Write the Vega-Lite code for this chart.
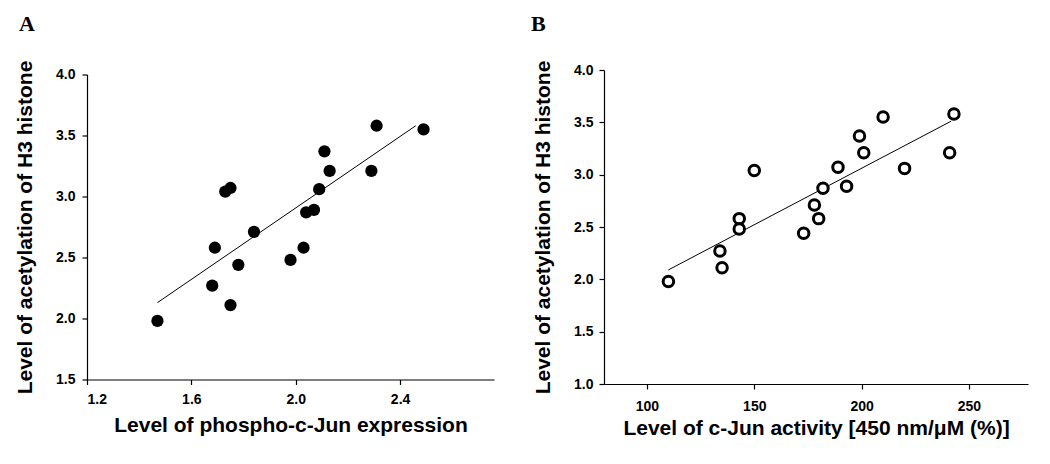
{
  "$schema": "https://vega.github.io/schema/vega-lite/v6.json",
  "background": "white",
  "padding": {"left": 14, "top": 13, "right": 5, "bottom": 5},
  "bounds": "flush",
  "center": true,
  "spacing": 110,
  "config": {
    "view": {"stroke": null},
    "axis": {
      "grid": false,
      "domainColor": "black",
      "domainWidth": 1.2,
      "tickColor": "black",
      "tickWidth": 1.2,
      "tickSize": 5,
      "labelFont": "Liberation Sans",
      "labelFontWeight": "bold",
      "labelFontSize": 14,
      "labelColor": "black",
      "titleFont": "Liberation Sans",
      "titleFontWeight": "bold",
      "titleFontSize": 21,
      "titleColor": "black"
    },
    "axisX": {"labelPadding": 8, "titlePadding": 8},
    "axisY": {"labelPadding": 7, "titlePadding": 20},
    "title": {"font": "Liberation Serif", "fontWeight": "bold", "fontSize": 22, "color": "black", "anchor": "start", "baseline": "alphabetic", "frame": "group", "offset": 24}
  },
  "datasets": {
    "a": [
      {"x": 1.47, "y": 1.98}, {"x": 1.68, "y": 2.27}, {"x": 1.69, "y": 2.58}, {"x": 1.75, "y": 2.11},
      {"x": 1.73, "y": 3.04}, {"x": 1.75, "y": 3.07}, {"x": 1.78, "y": 2.44}, {"x": 1.84, "y": 2.71},
      {"x": 1.98, "y": 2.48}, {"x": 2.03, "y": 2.58}, {"x": 2.04, "y": 2.87}, {"x": 2.07, "y": 2.89},
      {"x": 2.09, "y": 3.06}, {"x": 2.11, "y": 3.37}, {"x": 2.13, "y": 3.21}, {"x": 2.29, "y": 3.21},
      {"x": 2.31, "y": 3.58}, {"x": 2.49, "y": 3.55}
    ],
    "aline": [{"x": 1.47, "y": 2.13}, {"x": 2.46, "y": 3.58}],
    "b": [
      {"x": 110, "y": 1.98}, {"x": 134, "y": 2.27}, {"x": 135, "y": 2.11}, {"x": 143, "y": 2.58},
      {"x": 143, "y": 2.48}, {"x": 150, "y": 3.04}, {"x": 173, "y": 2.44}, {"x": 178, "y": 2.71},
      {"x": 180, "y": 2.58}, {"x": 182, "y": 2.87}, {"x": 189, "y": 3.07}, {"x": 193, "y": 2.89},
      {"x": 199, "y": 3.37}, {"x": 201, "y": 3.21}, {"x": 210, "y": 3.55}, {"x": 220, "y": 3.06},
      {"x": 241, "y": 3.21}, {"x": 243, "y": 3.58}
    ],
    "bline": [{"x": 110, "y": 2.09}, {"x": 241.6, "y": 3.51}]
  },
  "hconcat": [
    {
      "title": {"text": "A", "dx": -68},
      "width": 407,
      "height": 305,
      "layer": [
        {
          "data": {"name": "aline"},
          "mark": {"type": "line", "color": "black", "strokeWidth": 1},
          "encoding": {
            "x": {"field": "x", "type": "quantitative", "scale": {"domain": [1.2, 2.76], "nice": false, "zero": false},
                  "axis": {"title": "Level of phospho-c-Jun expression", "values": [1.2, 1.6, 2.0, 2.4], "format": ".1f"}},
            "y": {"field": "y", "type": "quantitative", "scale": {"domain": [1.5, 4.0], "nice": false, "zero": false},
                  "axis": {"title": "Level of acetylation of H3 histone", "values": [1.5, 2.0, 2.5, 3.0, 3.5, 4.0], "format": ".1f"}}
          }
        },
        {
          "data": {"name": "a"},
          "mark": {"type": "point", "filled": true, "color": "black", "size": 150, "opacity": 1},
          "encoding": {
            "x": {"field": "x", "type": "quantitative"},
            "y": {"field": "y", "type": "quantitative"}
          }
        }
      ]
    },
    {
      "title": {"text": "B", "dx": -73},
      "width": 424,
      "height": 314,
      "layer": [
        {
          "data": {"name": "bline"},
          "mark": {"type": "line", "color": "black", "strokeWidth": 1},
          "encoding": {
            "x": {"field": "x", "type": "quantitative", "scale": {"domain": [80, 277.5], "nice": false, "zero": false},
                  "axis": {"title": "Level of c-Jun activity [450 nm/μM (%)]", "values": [100, 150, 200, 250], "labelPadding": 10, "titlePadding": 4}},
            "y": {"field": "y", "type": "quantitative", "scale": {"domain": [1.0, 4.0], "nice": false, "zero": false},
                  "axis": {"title": "Level of acetylation of H3 histone", "values": [1.0, 1.5, 2.0, 2.5, 3.0, 3.5, 4.0], "format": ".1f", "labelPadding": 6}}
          }
        },
        {
          "data": {"name": "b"},
          "mark": {"type": "point", "filled": false, "color": "black", "fill": "white", "size": 110, "strokeWidth": 3, "opacity": 1},
          "encoding": {
            "x": {"field": "x", "type": "quantitative"},
            "y": {"field": "y", "type": "quantitative"}
          }
        }
      ]
    }
  ]
}
